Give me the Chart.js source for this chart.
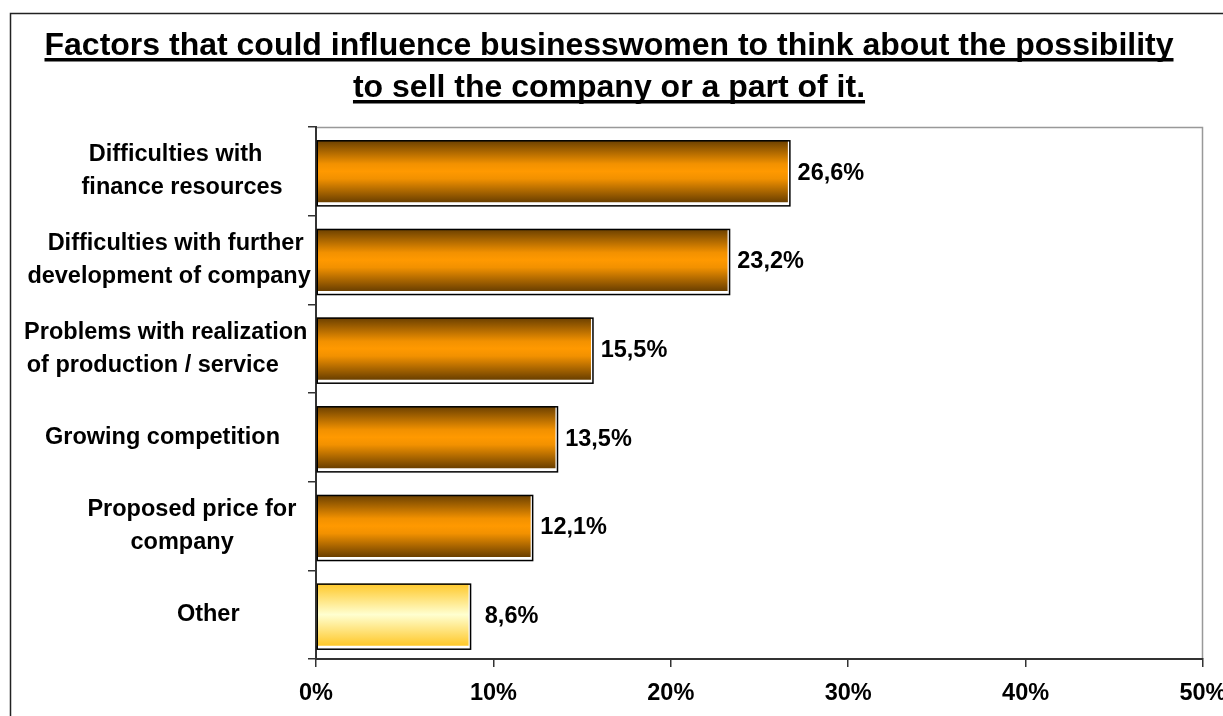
<!DOCTYPE html>
<html>
<head>
<meta charset="utf-8">
<script src="https://cdn.jsdelivr.net/npm/chart.js"></script>
<style>
  html, body { margin: 0; padding: 0; background: #fff; }
  canvas { display: block; }
</style>
</head>
<body>
<canvas id="chart" width="1223" height="716"></canvas>
<script>
// survey answers, share of respondents (%)
const titleLines = [
  'Factors that could influence businesswomen to think about the possibility',
  'to sell the company or a part of it.'
]
const categories = [
  ['  Difficulties with', '    finance resources'],
  ['  Difficulties with further', 'development of company'],
  ['Problems with realization ', 'of production / service     '],
  ['Growing competition  '],
  ['       Proposed price for', '    company'],
  ['            Other']
]
const shares = [26.6, 23.2, 15.5, 13.5, 12.1, 8.6]
const axisMax = 50
const axisStep = 10

const FONT = 'Liberation Sans, Arial, Helvetica, sans-serif'

function fmtPct(v) {
  return v.toFixed(1).replace('.', ',') + '%'
}

function barGradient(ctx, top, bottom, pale) {
  let g = ctx.createLinearGradient(0, top, 0, bottom)
  if (pale) {
    g.addColorStop(0, '#ffc82a')
    g.addColorStop(0.5, '#ffffd0')
    g.addColorStop(1, '#ffc82a')
  } else {
    g.addColorStop(0, '#6a3f00')
    g.addColorStop(0.38, '#f29100')
    g.addColorStop(0.5, '#ff9900')
    g.addColorStop(0.62, '#f29100')
    g.addColorStop(1, '#6a3f00')
  }
  return g
}

// frame, title and the grey top/right edge of the plot
const framePlugin = {
  id: 'frame',
  beforeDraw(chart) {
    const ctx = chart.ctx
    const a = chart.chartArea
    ctx.save()
    ctx.fillStyle = '#fff'
    ctx.fillRect(0, 0, chart.width, chart.height)
    ctx.strokeStyle = '#222'
    ctx.lineWidth = 1.5
    ctx.strokeRect(10.5, 13.5, chart.width + 50, chart.height + 50)

    ctx.strokeStyle = '#999'
    ctx.lineWidth = 1.5
    ctx.beginPath()
    ctx.moveTo(a.left, a.top + 0.5)
    ctx.lineTo(a.right - 0.5, a.top + 0.5)
    ctx.lineTo(a.right - 0.5, a.bottom)
    ctx.stroke()

    ctx.fillStyle = '#000'
    ctx.font = 'bold 32px ' + FONT
    ctx.textAlign = 'center'
    ctx.textBaseline = 'alphabetic'
    const cx = 609
    titleLines.forEach((line, i) => {
      const y = 55 + i * 42
      ctx.fillText(line, cx, y)
      const w = ctx.measureText(line).width
      ctx.fillRect(cx - w / 2, y + 3, w, 3.5)
    })
    ctx.restore()
  }
}

// gradient fills, drop outline and value labels
const barPlugin = {
  id: 'barDeco',
  beforeDatasetsDraw(chart) {
    const meta = chart.getDatasetMeta(0)
    meta.data.forEach((el, i) => {
      const top = el.y - el.height / 2
      const bottom = el.y + el.height / 2
      el.options.backgroundColor = barGradient(chart.ctx, top, bottom, i === shares.length - 1)
    })
  },
  afterDatasetsDraw(chart) {
    const ctx = chart.ctx
    const meta = chart.getDatasetMeta(0)
    ctx.save()
    meta.data.forEach((el, i) => {
      const top = el.y - el.height / 2
      const bottom = el.y + el.height / 2
      ctx.strokeStyle = '#000'
      ctx.lineWidth = 1.5
      ctx.strokeRect(el.base + 0.5, top + 0.5, el.x - el.base + 1.5, bottom - top + 3)

      ctx.fillStyle = '#000'
      ctx.font = 'bold 23.5px ' + FONT
      ctx.textAlign = 'center'
      ctx.textBaseline = 'middle'
      ctx.fillText(fmtPct(shares[i]), el.x + 43, el.y + 2)
    })
    ctx.restore()
  }
}

Chart.defaults.font.family = FONT
Chart.defaults.font.size = 23.5
Chart.defaults.font.weight = 'bold'
Chart.defaults.color = '#000'

new Chart(document.getElementById('chart').getContext('2d'), {
  type: 'bar',
  data: {
    labels: categories,
    datasets: [{
      data: shares,
      // scriptable so every bar keeps its own options object
      backgroundColor: c => c.dataIndex === shares.length - 1 ? '#ffe680' : '#ff9900',
      borderWidth: 0,
      barPercentage: 0.7,
      categoryPercentage: 1
    }]
  },
  options: {
    indexAxis: 'y',
    responsive: false,
    animation: false,
    layout: { padding: { top: 127, right: 20, left: 0, bottom: 0 } },
    plugins: {
      legend: { display: false },
      title: { display: false },
      tooltip: { enabled: false }
    },
    scales: {
      x: {
        min: 0,
        max: axisMax,
        afterFit(scale) {
          scale.height = 57
          scale.paddingLeft = 0
          scale.paddingRight = 0
        },
        ticks: {
          stepSize: axisStep,
          padding: 12,
          callback: v => v + '%',
          font: { size: 23.5, weight: 'bold' }
        },
        grid: { drawOnChartArea: false, tickLength: 8, color: '#333', lineWidth: 1.5 },
        border: { color: '#333', width: 2 }
      },
      y: {
        afterFit(scale) { scale.width = 316 },
        ticks: {
          crossAlign: 'center',
          padding: -6,
          font: { size: 23.5, weight: 'bold', lineHeight: 1.4 }
        },
        grid: { offset: true, drawOnChartArea: false, tickLength: 8, color: '#333', lineWidth: 1.5 },
        border: { color: '#333', width: 2 }
      }
    }
  },
  plugins: [framePlugin, barPlugin]
})
</script>
</body>
</html>
